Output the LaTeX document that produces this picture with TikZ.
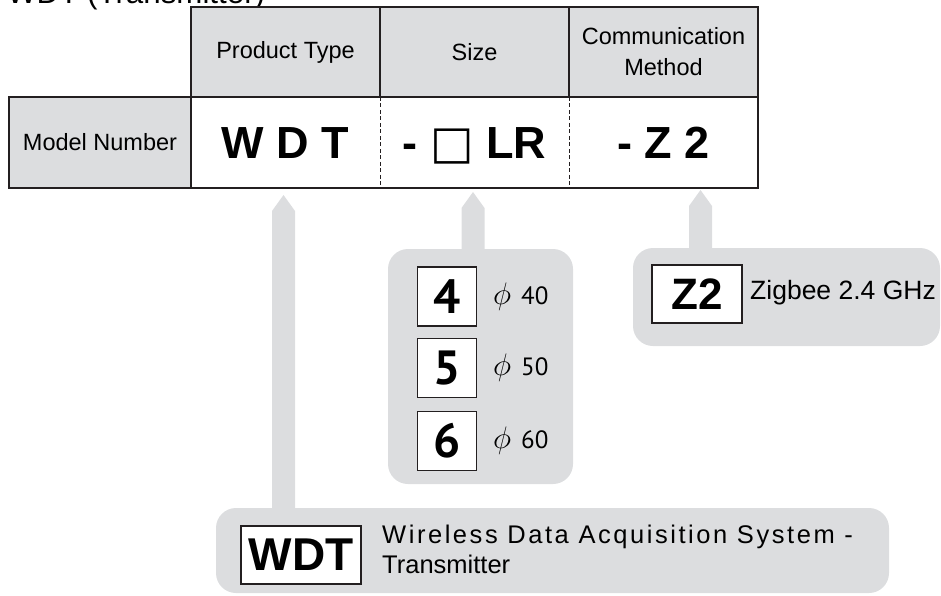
\RequirePackage{fix-cm}
\documentclass[tikz,border=0pt]{standalone}
\usepackage{fontspec}
\setmainfont{Liberation Sans}
\newfontfamily\digitfont{PT Sans}
\newfontfamily\symfont{DejaVu Sans}
\definecolor{cellgray}{RGB}{220,221,223}
\definecolor{linec}{RGB}{35,31,32}
\tikzset{
  hdr/.style={draw=linec,fill=cellgray,line width=1.5pt,minimum width=189pt,minimum height=90pt,
    inner sep=0pt,align=center,font=\fontsize{23.5}{31}\selectfont},
  code/.style={minimum width=189pt,minimum height=91pt,inner sep=0pt,text height=31pt,text depth=0pt,
    font=\fontsize{45}{50}\selectfont\bfseries},
  infobox/.style={fill=cellgray,rounded corners=20pt},
  keybox/.style={draw=linec,fill=white,line width=1.4pt,inner sep=0pt},
  desc/.style={anchor=west,inner sep=0pt,align=left}
}
\newcommand\pointer[3]{\fill[cellgray] (#1-11.5,#3) -- (#1-11.5,#2+16) -- (#1,#2) -- (#1+11.5,#2+16) -- (#1+11.5,#3) -- cycle;}

\begin{document}
\begin{tikzpicture}[x=1pt,y=-1pt]
  \useasboundingbox (0,0) rectangle (941,595);
  \node[anchor=base west,inner sep=0pt,font=\fontsize{31.3}{33}\selectfont] (title) at (7,3) {WDT (Transmitter)};

  \node[hdr] (type) at (285.5,52) {Product Type};
  \node[hdr] (size) at (474.5,52) {Size};
  \node[hdr] (comm) at (663.5,52) {Communication\\Method};
  \node[hdr,minimum width=182pt,minimum height=91pt] (model) at (100,142.5) {Model Number};
  \node[code] (codewdt) at (285.5,142.5) {W D T};
  \node[code] (codesize) at (474.5,142.5) {- {\symfont\fontsize{46}{50}\selectfont □} LR};
  \node[code] (codecomm) at (663.5,142.5) {- Z 2};
  \draw[linec,line width=1.5pt] (codewdt.north west) rectangle (codecomm.south east);
  \draw[linec,line width=1.2pt,dashed,dash pattern=on 4pt off 2.5pt] (codewdt.north east) -- (codewdt.south east);
  \draw[linec,line width=1.2pt,dashed,dash pattern=on 4pt off 2.5pt] (codesize.north east) -- (codesize.south east);

  \pointer{283.5}{195}{515}
  \pointer{473}{192}{255}
  \pointer{700.5}{190}{255}

  \fill[infobox] (388,249) rectangle (573,484);
  \foreach \d/\y in {4/296.5,5/368,6/441} {
    \node[keybox,minimum size=59pt,font=\digitfont\bfseries\fontsize{48}{50}\selectfont] (size\d) at (447,\y) {\d};
    \node[desc,font=\digitfont\fontsize{25}{30}\selectfont] (dia\d) at (493,\y) {\resizebox{18pt}{!}{$\phi$}\hspace{10pt}\d0};
  }

  \fill[infobox] (633,248) rectangle (940,346);
  \node[keybox,minimum width=90pt,minimum height=58pt,font=\fontsize{44}{50}\selectfont\bfseries] (z2) at (697,294) {Z2};
  \node[desc,font=\fontsize{26.5}{30}\selectfont] (zigbee) at (750,293) {Zigbee 2.4 GHz};

  \fill[infobox] (216,508) rectangle (889,593);
  \node[keybox,minimum width=120pt,minimum height=58pt,font=\fontsize{46}{50}\selectfont\bfseries] (wdt) at (301,555) {WDT};
  \node[desc,font=\fontsize{25.5}{30}\selectfont] (wdtdesc) at (382,549)
    {{\addfontfeature{LetterSpace=10}Wireless Data Acquisition System -}\\Transmitter};
\end{tikzpicture}
\end{document}
